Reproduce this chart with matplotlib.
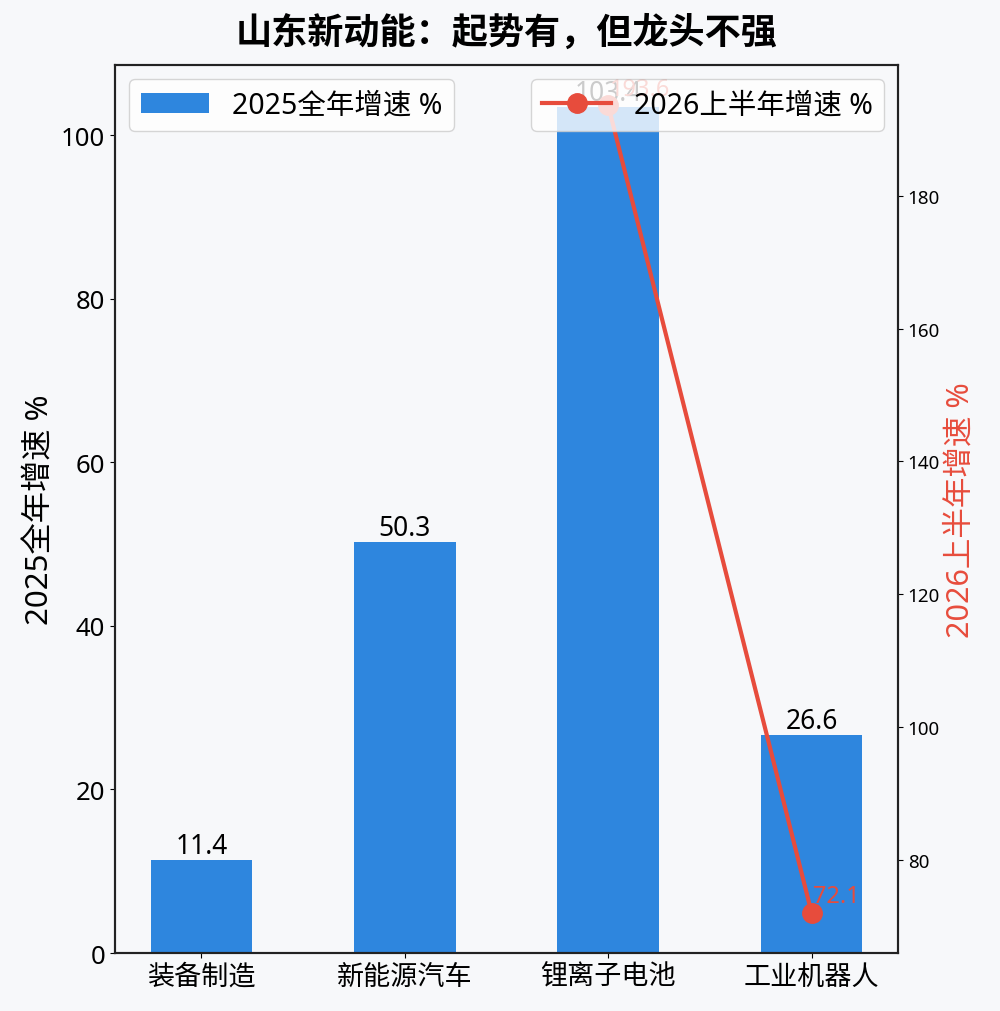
import matplotlib.pyplot as plt
import numpy as np

plt.rcParams['font.family'] = ['Noto Sans', 'Noto Sans CJK SC', 'DejaVu Sans']
plt.rcParams['axes.unicode_minus'] = False

categories = ['装备制造', '新能源汽车', '锂离子电池', '工业机器人']
growth_2025 = [11.4, 50.3, 103.4, 26.6]
growth_2026h1 = [np.nan, np.nan, 193.6, 72.1]

bar_color = '#2E86DE'
line_color = '#E74C3C'
bg = '#F7F8FA'

fig, ax1 = plt.subplots(figsize=(10, 10.12), dpi=100)
fig.patch.set_facecolor(bg)
ax1.set_facecolor(bg)
fig.subplots_adjust(left=0.115, right=0.898, bottom=0.0573, top=0.9348)

x = np.arange(len(categories))
bars = ax1.bar(x, growth_2025, width=0.5, color=bar_color, label='2025全年增速 %')
ax1.bar_label(bars, labels=[f'{v}' for v in growth_2025], fontsize=19, padding=0)
ax1.set_xticks(x)
ax1.set_xticklabels(categories, fontsize=19.5)
ax1.tick_params(axis='y', labelsize=18.5)
ax1.set_ylabel('2025全年增速 %', fontsize=22.5)

ax2 = ax1.twinx()
ax2.plot(x, growth_2026h1, color=line_color, linewidth=3, marker='o',
         markersize=14, label='2026上半年增速 %')
for i, v in enumerate(growth_2026h1):
    if not np.isnan(v):
        ax2.annotate(f'{v}', (x[i], v), xytext=(1, 3), textcoords='offset points',
                     ha='left', va='bottom', color=line_color, fontsize=17)
ax2.set_ylabel('2026上半年增速 %', color=line_color, fontsize=22)
ax2.tick_params(axis='y', labelsize=13.5)

for ax in (ax1, ax2):
    for s in ax.spines.values():
        s.set_color('#222222')
        s.set_linewidth(1.5)

ax1.legend(loc='upper left', fontsize=20.5, handlelength=2.4)
ax2.legend(loc='upper right', fontsize=20.5, handlelength=2.4)

ax1.set_title('山东新动能：起势有，但龙头不强', fontsize=26, fontweight='bold', pad=16)

fig.savefig('out.png', facecolor=bg)
